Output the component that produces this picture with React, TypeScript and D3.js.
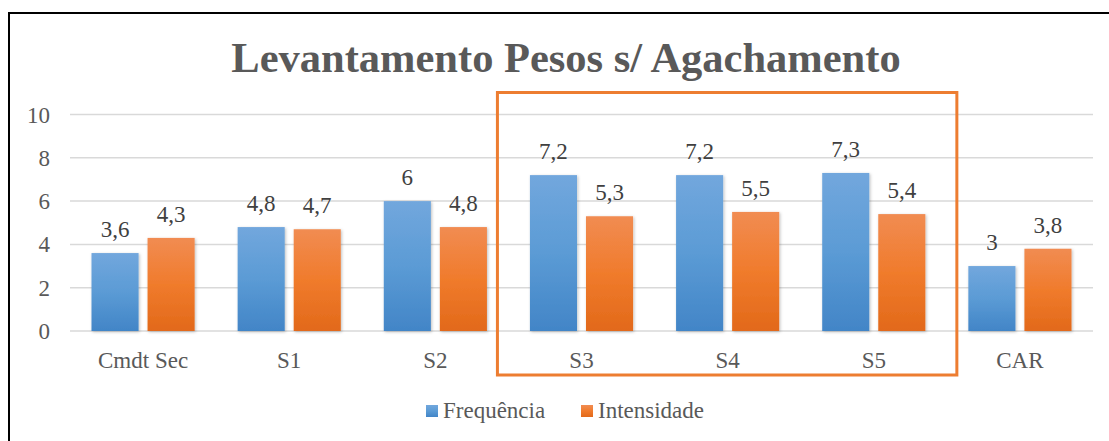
import React from 'react';
import * as d3 from 'd3';

const categories = ['Cmdt Sec', 'S1', 'S2', 'S3', 'S4', 'S5', 'CAR'];
const series = ['Frequência', 'Intensidade'];
const frequencia = [3.6, 4.8, 6, 7.2, 7.2, 7.3, 3];
const intensidade = [4.3, 4.7, 4.8, 5.3, 5.5, 5.4, 3.8];
const yTicks = [0, 2, 4, 6, 8, 10];
const highlighted = ['S3', 'S5'];

const W = 1109;
const H = 441;
const font = 'Liberation Serif, DejaVu Serif, serif';

export default function App() {
    const x0 = d3.scaleBand<string>().domain(categories).range([70, 1093]).padding(0);
    const x1 = d3.scaleBand<string>().domain(series)
        .range([21.5, x0.bandwidth() - 21.5]).paddingInner(0.16);
    const y = d3.scaleLinear().domain([0, 10]).range([331, 114.5]);

    const fmt = (v: number) => String(v).replace('.', ',');
    const values = [frequencia, intensidade];
    const fills = ['url(#gBlue)', 'url(#gOrange)'];

    const hlLeft = (x0(highlighted[0]) as number) - 11;
    const hlRight = (x0(highlighted[1]) as number) + x0.bandwidth() + 10;

    return (
        <svg width={W} height={H} style={{ position: 'absolute', left: 0, top: 0, background: '#fff', fontFamily: font }}>
            <defs>
                <linearGradient id="gBlue" x1="0" y1="0" x2="0" y2="1">
                    <stop offset="0%" stopColor="#72a7dd" />
                    <stop offset="50%" stopColor="#5b9bd5" />
                    <stop offset="100%" stopColor="#4285c7" />
                </linearGradient>
                <linearGradient id="gOrange" x1="0" y1="0" x2="0" y2="1">
                    <stop offset="0%" stopColor="#f18c52" />
                    <stop offset="50%" stopColor="#f07b2c" />
                    <stop offset="100%" stopColor="#e2691a" />
                </linearGradient>
                <filter id="shadow" x="-20%" y="-10%" width="140%" height="120%">
                    <feDropShadow dx="1" dy="1" stdDeviation="1.5" floodColor="#000" floodOpacity="0.25" />
                </filter>
            </defs>

            {/* outer frame */}
            <rect x={9} y={13} width={W + 20} height={H + 20} fill="none" stroke="#000" strokeWidth={2} />

            <text x={566} y={72} textAnchor="middle" fontWeight="bold"
                fontSize={42.5} fill="#595959">Levantamento Pesos s/ Agachamento</text>

            {/* gridlines + y ticks */}
            {yTicks.map(t => (
                <g key={t}>
                    <line x1={70} x2={1093} y1={y(t)} y2={y(t)} stroke="#d9d9d9" strokeWidth={1.5} />
                    <text x={50} y={y(t) + 8} textAnchor="end" fontSize={23} fill="#595959">{t}</text>
                </g>
            ))}

            {/* bars */}
            {categories.map((c, i) => (
                <g key={c} transform={`translate(${x0(c)},0)`}>
                    {series.map((s, k) => {
                        const v = values[k][i];
                        const bx = x1(s) as number;
                        return (
                            <g key={s}>
                                <rect x={bx} y={y(v)} width={x1.bandwidth()} height={y(0) - y(v)}
                                    fill={fills[k]} filter="url(#shadow)" />
                                <text x={bx + x1.bandwidth() / 2} y={y(v) - 16} textAnchor="middle"
                                    fontSize={23} fill="#404040">{fmt(v)}</text>
                            </g>
                        );
                    })}
                    <text x={x0.bandwidth() / 2} y={368} textAnchor="middle"
                        fontSize={23} fill="#595959">{c}</text>
                </g>
            ))}

            {/* highlight box */}
            <rect x={hlLeft} y={y(10) - 22} width={hlRight - hlLeft} height={375 - (y(10) - 22)}
                fill="none" stroke="#ed7d31" strokeWidth={3} />

            {/* legend */}
            <rect x={426} y={405} width={12} height={12} fill="url(#gBlue)" />
            <text x={443} y={418} fontSize={23} fill="#595959">{series[0]}</text>
            <rect x={581} y={405} width={12} height={12} fill="url(#gOrange)" />
            <text x={598} y={418} fontSize={23} fill="#595959">{series[1]}</text>
        </svg>
    );
}
